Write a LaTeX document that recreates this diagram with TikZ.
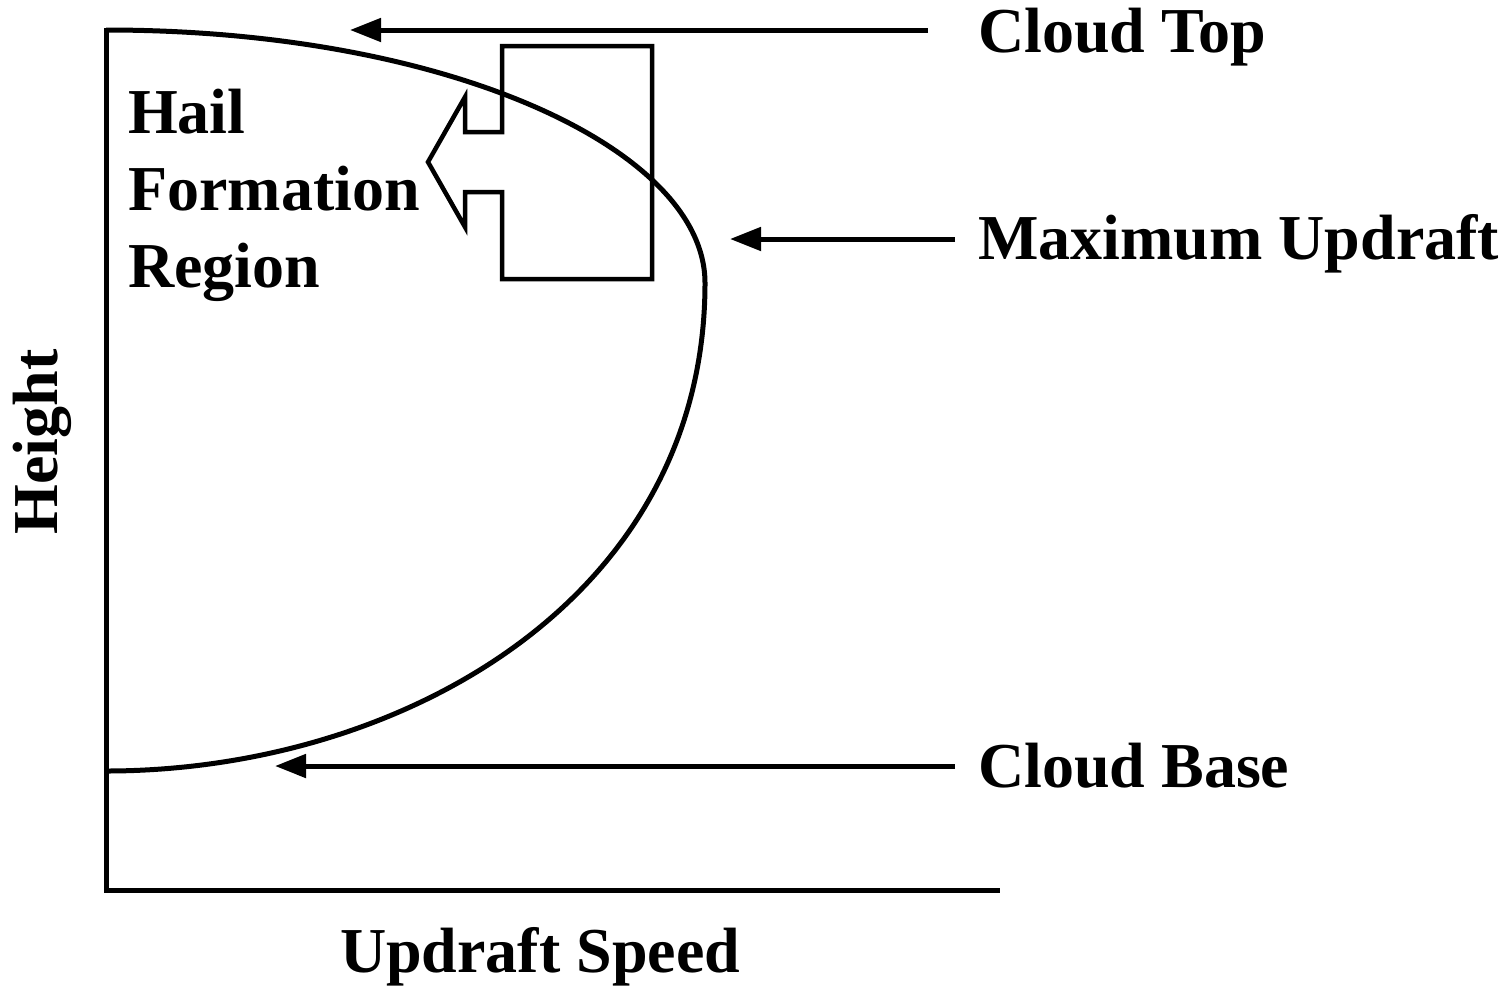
\documentclass[tikz,border=0pt]{standalone}
\usepackage{fontspec}
\setmainfont{Liberation Serif}
\usetikzlibrary{arrows.meta}
\begin{document}
\begin{tikzpicture}[x=1pt,y=-1pt,
  lbl/.style={font=\fontsize{64}{77}\selectfont\bfseries, inner sep=0pt, anchor=base west, align=left},
  thick line/.style={line width=5pt},
  ptr/.style={line width=5pt, -{Triangle[length=31pt,width=23pt]}}]
\useasboundingbox (0,0) rectangle (1511,986);
% axes
\coordinate (top) at (106,28);
\coordinate (origin) at (106,890);
\coordinate (xend) at (1000,890);
\draw[thick line] (top) -- (origin) -- (xend);
% curve
\coordinate (cstart) at (106,30);
\coordinate (cmax) at (705,283);
\coordinate (cbase) at (106,771);
\draw[thick line] (cstart) .. controls (450,30) and (705,150) .. (cmax)
  .. controls (705,600) and (400,771) .. (cbase);
% block arrow
\draw[line width=4.5pt, line join=miter]
  (502,46) -- (652,46) -- (652,279) -- (502,279) -- (502,192) -- (465,192)
  -- (465,227) -- (428,162) -- (465,97) -- (465,132) -- (502,132) -- cycle;
% labels
\node[lbl] (ctop) at (978,52) {Cloud Top};
\node[lbl] (cmaxl) at (978,259) {Maximum Updraft};
\node[lbl] (cbasel) at (978,787) {Cloud Base};
\node[lbl] (hail) at (128,287) {Hail\\Formation\\Region};
\node[lbl] (xlab) at (340,972) {Updraft Speed};
\node[lbl, anchor=center, rotate=90] (ylab) at (42,442) {Height};
% pointers
\coordinate (a1s) at (928,30); \coordinate (a1e) at (350,30);
\coordinate (a2s) at (955,239); \coordinate (a2e) at (730,239);
\coordinate (a3s) at (955,766); \coordinate (a3e) at (275,766);
\draw[ptr] (a1s) -- (a1e);
\draw[ptr] (a2s) -- (a2e);
\draw[ptr] (a3s) -- (a3e);
\end{tikzpicture}
\end{document}
